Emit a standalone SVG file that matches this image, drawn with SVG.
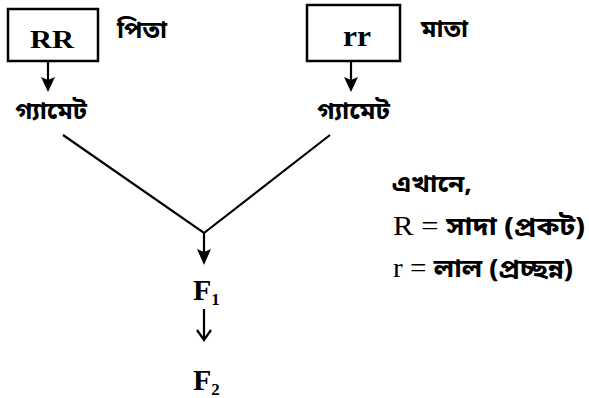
<svg xmlns="http://www.w3.org/2000/svg" width="589" height="398" viewBox="0 0 589 398">
<style>
.box{fill:#fff;stroke:#000;stroke-width:2.5}
.ln{stroke:#000;stroke-width:2.2;fill:none}
.ah{fill:#000;stroke:none}
.lat{font-family:"Liberation Serif","Times New Roman",serif;fill:#000}
.bn{font-family:"Noto Sans Bengali","Noto Serif Bengali","Lohit Bengali","Noto Sans",sans-serif;font-weight:bold;fill:#000}
</style>
<rect width="589" height="398" fill="#fff"/>
<g id="father">
<rect class="box" x="8" y="9" width="90" height="52"/>
<text class="lat" x="30" y="48" font-size="26" font-weight="bold" textLength="44" lengthAdjust="spacingAndGlyphs">RR</text>
<text class="bn" x="117" y="38" font-size="24" textLength="50" lengthAdjust="spacingAndGlyphs">পিতা</text>
</g>
<g id="mother">
<rect class="box" x="307" y="5" width="93" height="56"/>
<text class="lat" x="343" y="46" font-size="30" font-weight="bold" textLength="28" lengthAdjust="spacingAndGlyphs">rr</text>
<text class="bn" x="421" y="37" font-size="24" textLength="47" lengthAdjust="spacingAndGlyphs">মাতা</text>
</g>
<g id="gamete1">
<text class="bn" x="15" y="119" font-size="24" textLength="72" lengthAdjust="spacingAndGlyphs">গ্যামেট</text>
</g>
<g id="gamete2">
<text class="bn" x="317" y="119" font-size="24" textLength="73" lengthAdjust="spacingAndGlyphs">গ্যামেট</text>
</g>
<g id="f1">
<text class="lat" x="193" y="300" font-size="30" font-weight="bold">F<tspan font-size="17" dy="5">1</tspan></text>
</g>
<g id="f2">
<text class="lat" x="193" y="390" font-size="30" font-weight="bold">F<tspan font-size="17" dy="5">2</tspan></text>
</g>
<g id="legend">
<text class="bn" x="392" y="192" font-size="23" textLength="80" lengthAdjust="spacingAndGlyphs">এখানে,</text>
<text x="393" y="235" font-size="27" textLength="192" lengthAdjust="spacingAndGlyphs"><tspan class="lat">R = </tspan><tspan class="bn" font-size="25">সাদা (প্রকট)</tspan></text>
<text x="393" y="277" font-size="27" textLength="180" lengthAdjust="spacingAndGlyphs"><tspan class="lat">r = </tspan><tspan class="bn" font-size="25">লাল (প্রচ্ছন্ন)</tspan></text>
</g>
<g id="connectors">
<line class="ln" x1="48" y1="62" x2="48" y2="80"/>
<path class="ah" d="M41,77 L48,92 L55,77 L48,80 Z"/>
<line class="ln" x1="351" y1="62" x2="351" y2="80"/>
<path class="ah" d="M344,77 L351,92 L358,77 L351,80 Z"/>
<polyline class="ln" points="63,135 204,233 330,135"/>
<line class="ln" x1="204" y1="233" x2="204" y2="252"/>
<path class="ah" d="M197,249 L204,265 L211,249 L204,252 Z"/>
<path class="ln" d="M204,309 V339 M197,330 L204,340 L211,330" stroke-width="1.8"/>
</g>
</svg>
